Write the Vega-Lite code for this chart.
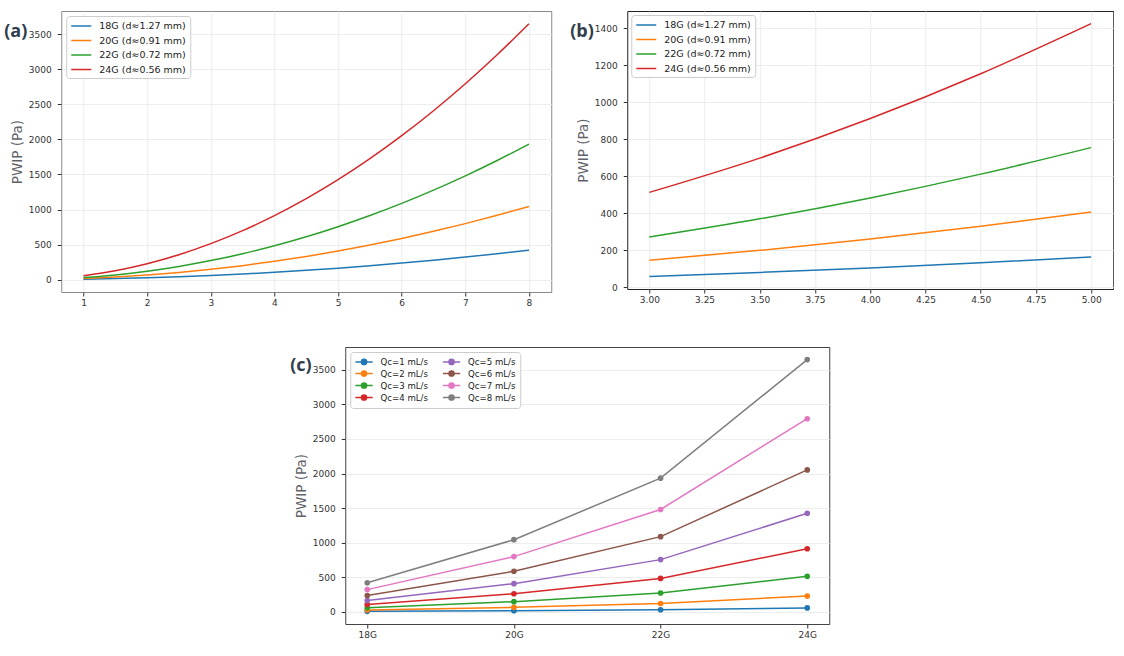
{
  "$schema": "https://vega.github.io/schema/vega-lite/v6.json",
  "padding": {"left": 3, "top": 10, "right": 0, "bottom": 0},
  "background": "white",
  "datasets": {
    "pw": [
      {"g": "18G", "q": 1, "p": 6.6}, {"g": "18G", "q": 1.5, "p": 14.8}, {"g": "18G", "q": 2, "p": 26.2}, {"g": "18G", "q": 2.5, "p": 41},
      {"g": "18G", "q": 3, "p": 59}, {"g": "18G", "q": 3.5, "p": 80.4}, {"g": "18G", "q": 4, "p": 105}, {"g": "18G", "q": 4.5, "p": 132.8},
      {"g": "18G", "q": 5, "p": 164}, {"g": "18G", "q": 5.5, "p": 198.4}, {"g": "18G", "q": 6, "p": 236.2}, {"g": "18G", "q": 6.5, "p": 277.2},
      {"g": "18G", "q": 7, "p": 321.4}, {"g": "18G", "q": 7.5, "p": 369}, {"g": "18G", "q": 8, "p": 419.8},
      {"g": "20G", "q": 1, "p": 16.3}, {"g": "20G", "q": 1.5, "p": 36.7}, {"g": "20G", "q": 2, "p": 65.2}, {"g": "20G", "q": 2.5, "p": 101.9},
      {"g": "20G", "q": 3, "p": 146.7}, {"g": "20G", "q": 3.5, "p": 199.7}, {"g": "20G", "q": 4, "p": 260.8}, {"g": "20G", "q": 4.5, "p": 330.1},
      {"g": "20G", "q": 5, "p": 407.5}, {"g": "20G", "q": 5.5, "p": 493.1}, {"g": "20G", "q": 6, "p": 586.8}, {"g": "20G", "q": 6.5, "p": 688.7},
      {"g": "20G", "q": 7, "p": 798.7}, {"g": "20G", "q": 7.5, "p": 916.9}, {"g": "20G", "q": 8, "p": 1043.2},
      {"g": "22G", "q": 1, "p": 30.2}, {"g": "22G", "q": 1.5, "p": 68}, {"g": "22G", "q": 2, "p": 120.8}, {"g": "22G", "q": 2.5, "p": 188.8},
      {"g": "22G", "q": 3, "p": 271.8}, {"g": "22G", "q": 3.5, "p": 370}, {"g": "22G", "q": 4, "p": 483.2}, {"g": "22G", "q": 4.5, "p": 611.6},
      {"g": "22G", "q": 5, "p": 755}, {"g": "22G", "q": 5.5, "p": 913.6}, {"g": "22G", "q": 6, "p": 1087.2}, {"g": "22G", "q": 6.5, "p": 1276},
      {"g": "22G", "q": 7, "p": 1479.8}, {"g": "22G", "q": 7.5, "p": 1698.8}, {"g": "22G", "q": 8, "p": 1932.8},
      {"g": "24G", "q": 1, "p": 57}, {"g": "24G", "q": 1.5, "p": 128.3}, {"g": "24G", "q": 2, "p": 228}, {"g": "24G", "q": 2.5, "p": 356.3},
      {"g": "24G", "q": 3, "p": 513}, {"g": "24G", "q": 3.5, "p": 698.3}, {"g": "24G", "q": 4, "p": 912}, {"g": "24G", "q": 4.5, "p": 1154.3},
      {"g": "24G", "q": 5, "p": 1425}, {"g": "24G", "q": 5.5, "p": 1724.3}, {"g": "24G", "q": 6, "p": 2052}, {"g": "24G", "q": 6.5, "p": 2408.3},
      {"g": "24G", "q": 7, "p": 2793}, {"g": "24G", "q": 7.5, "p": 3206.3}, {"g": "24G", "q": 8, "p": 3648}
    ]
  },
  "vconcat": [
    {
      "hconcat": [
        {
          "name": "pa",
          "width": 490,
          "height": 281,
          "title": {"text": "(a)", "anchor": "start", "frame": "group", "dx": -57, "dy": 48, "offset": 0, "baseline": "bottom"},
          "data": {"name": "pw"},
          "mark": {"type": "line", "strokeWidth": 1.5, "interpolate": "monotone", "clip": true},
          "encoding": {
            "x": {"field": "q", "type": "quantitative", "scale": {"domain": [0.65, 8.35], "nice": false, "zero": false},
                  "axis": {"values": [1, 2, 3, 4, 5, 6, 7, 8], "title": null}},
            "y": {"field": "p", "type": "quantitative", "scale": {"domain": [-176, 3830], "nice": false, "zero": false},
                  "axis": {"values": [0, 500, 1000, 1500, 2000, 2500, 3000, 3500], "format": "d", "title": "PWIP (Pa)"}},
            "color": {"field": "g", "type": "nominal",
                      "scale": {"domain": ["18G", "20G", "22G", "24G"], "range": ["#1f77b4", "#ff7f0e", "#2ca02c", "#d62728"]},
                      "legend": {"orient": "top-left", "offset": 5, "title": null, "symbolType": "M-2,0H2", "symbolSize": 100, "symbolStrokeWidth": 1.5,
                                 "symbolOffset": 5, "labelFontSize": 9.5, "padding": 4, "rowPadding": 3.5, "labelOffset": 12,
                                 "labelExpr": "datum.label == '18G' ? '18G (d≈1.27 mm)' : datum.label == '20G' ? '20G (d≈0.91 mm)' : datum.label == '22G' ? '22G (d≈0.72 mm)' : '24G (d≈0.56 mm)'"}}
          },
          "view": {"stroke": "#8a8a8a"}
        },
        {
          "name": "pb",
          "width": 486,
          "height": 278,
          "title": {"text": "(b)", "anchor": "start", "frame": "group", "dx": -57, "dy": 48, "offset": 0, "baseline": "bottom"},
          "data": {"name": "pw"},
          "transform": [{"filter": "datum.q >= 3 && datum.q <= 5"}],
          "mark": {"type": "line", "strokeWidth": 1.5, "interpolate": "monotone", "clip": true},
          "encoding": {
            "x": {"field": "q", "type": "quantitative", "scale": {"domain": [2.9, 5.1], "nice": false, "zero": false},
                  "axis": {"values": [3, 3.25, 3.5, 3.75, 4, 4.25, 4.5, 4.75, 5], "format": ".2f", "title": null}},
            "y": {"field": "p", "type": "quantitative", "scale": {"domain": [-9, 1493], "nice": false, "zero": false},
                  "axis": {"values": [0, 200, 400, 600, 800, 1000, 1200, 1400], "format": "d", "title": "PWIP (Pa)"}},
            "color": {"field": "g", "type": "nominal",
                      "scale": {"domain": ["18G", "20G", "22G", "24G"], "range": ["#1f77b4", "#ff7f0e", "#2ca02c", "#d62728"]},
                      "legend": {"orient": "top-left", "offset": 4, "title": null, "symbolType": "M-2,0H2", "symbolSize": 100, "symbolStrokeWidth": 1.5,
                                 "symbolOffset": 5, "labelFontSize": 9.5, "padding": 4, "rowPadding": 3.5, "labelOffset": 12,
                                 "labelExpr": "datum.label == '18G' ? '18G (d≈1.27 mm)' : datum.label == '20G' ? '20G (d≈0.91 mm)' : datum.label == '22G' ? '22G (d≈0.72 mm)' : '24G (d≈0.56 mm)'"}}
          },
          "view": {"stroke": "#222"}
        }
      ],
      "spacing": 17,
      "resolve": {"scale": {"color": "independent"}, "legend": {"color": "independent"}}
    },
    {
      "name": "pc",
      "width": 484,
      "height": 277,
      "title": {"text": "(c)", "anchor": "start", "frame": "group", "dx": -55, "dy": 46, "offset": 0, "baseline": "bottom"},
      "data": {"name": "pw"},
      "transform": [{"filter": "datum.q % 1 == 0"}],
      "mark": {"type": "line", "strokeWidth": 1.5, "point": {"filled": true, "size": 32}},
      "encoding": {
        "x": {"field": "g", "type": "nominal", "scale": {"type": "point", "padding": 0.15},
              "axis": {"labelAngle": 0, "title": null}},
        "y": {"field": "p", "type": "quantitative", "scale": {"domain": [-176, 3830], "nice": false, "zero": false},
              "axis": {"values": [0, 500, 1000, 1500, 2000, 2500, 3000, 3500], "format": "d", "title": "PWIP (Pa)"}},
        "color": {"field": "q", "type": "nominal",
                  "scale": {"domain": [1, 2, 3, 4, 5, 6, 7, 8], "range": ["#1f77b4", "#ff7f0e", "#2ca02c", "#d62728", "#9467bd", "#8c564b", "#e377c2", "#7f7f7f"]},
                  "legend": {"orient": "top-left", "offset": 5, "title": null, "columns": 2, "columnPadding": 11.5,
                             "symbolType": "M-2,0H2M0.6,0A0.6,0.6,0,1,1,-0.6,0A0.6,0.6,0,1,1,0.6,0Z", "symbolSize": 75, "symbolStrokeWidth": 1.5,
                             "symbolOffset": 4.3, "labelFontSize": 8.6, "padding": 4, "rowPadding": -2.4, "labelOffset": 11,
                             "labelExpr": "'Qc=' + datum.label + ' mL/s'",
                             "encode": {"symbols": {"update": {"fill": {"scale": "pc_color", "field": "value"}}}}}}
      },
      "view": {"stroke": "#444"}
    }
  ],
  "spacing": 38,
  "center": true,
  "resolve": {"scale": {"color": "independent"}, "legend": {"color": "independent"}},
  "config": {
    "font": "DejaVu Sans",
    "title": {"font": "Open Sans", "fontSize": 18, "fontWeight": "bold", "color": "#2f3d4c"},
    "axis": {
      "labelFont": "DejaVu Sans", "labelFontSize": 9, "labelColor": "#333", "tickColor": "#333", "tickSize": 4,
      "domain": false, "gridColor": "#e8e8e8", "gridWidth": 0.8,
      "titleFont": "DejaVu Sans", "titleFontSize": 13.5, "titleFontWeight": "normal", "titleColor": "#5f6368"
    },
    "axisX": {"labelPadding": 2, "labelFlush": false},
    "axisY": {"labelPadding": 6, "minExtent": 30, "maxExtent": 30, "titlePadding": 7},
    "legend": {"labelFont": "DejaVu Sans", "labelColor": "#222", "strokeColor": "#cccccc", "fillColor": "rgba(255,255,255,0.85)", "cornerRadius": 3}
  }
}
